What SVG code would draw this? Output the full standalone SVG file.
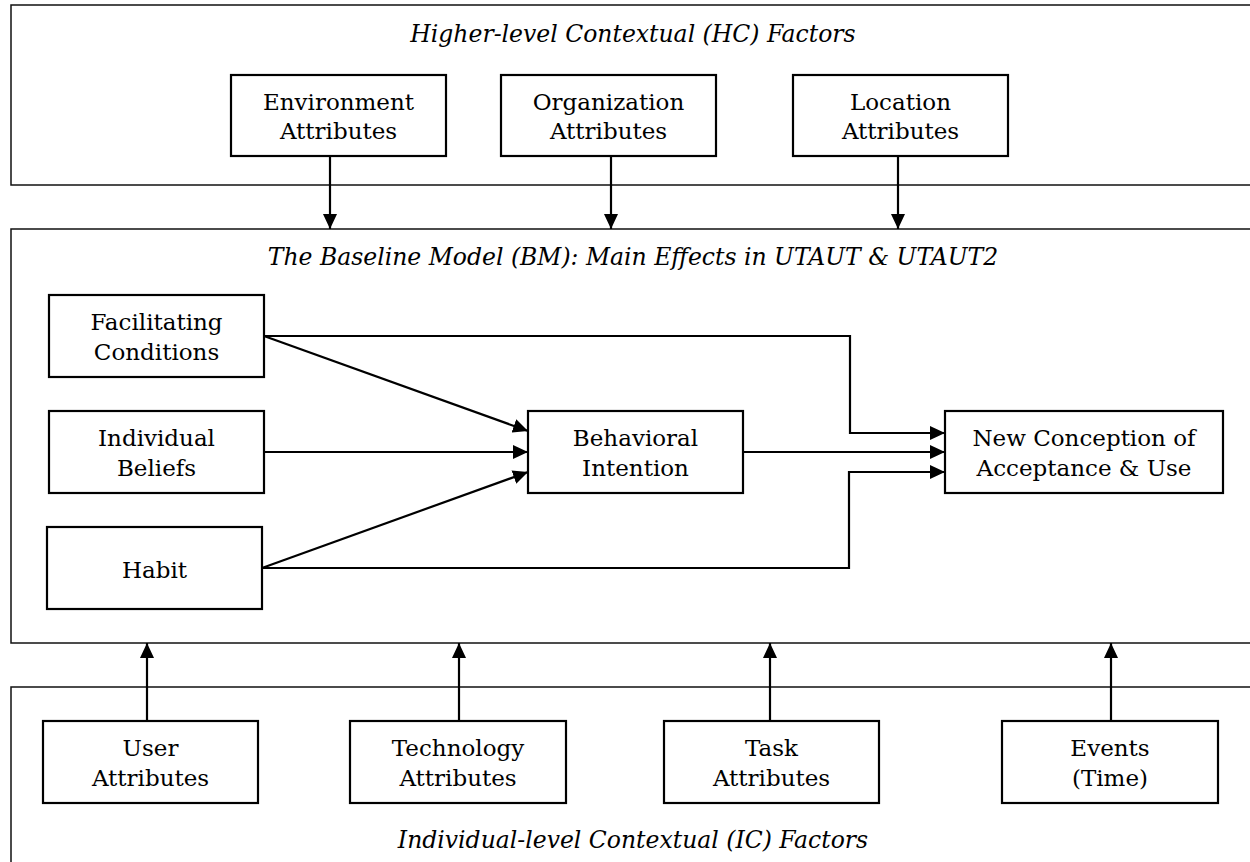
<svg xmlns="http://www.w3.org/2000/svg" width="1250" height="862" viewBox="0 0 1250 862">
<style>
.cont{fill:none;stroke:#111;stroke-width:1.5}
.node rect{fill:#fff;stroke:#000;stroke-width:2.2}
text{font-family:"DejaVu Serif","Liberation Serif",serif;font-size:23px;fill:#000;text-anchor:middle}
.title{font-style:italic;font-size:23.5px}
.conn{fill:none;stroke:#000;stroke-width:2.2}
</style>
<defs>
<marker id="ah" markerUnits="userSpaceOnUse" markerWidth="15" markerHeight="14" refX="15" refY="7" orient="auto">
<path d="M0,0 L15,7 L0,14 z" fill="#000"/>
</marker>
</defs>
<rect width="1250" height="862" fill="#fff"/>
<g id="hc-container">
<rect class="cont" x="11" y="5" width="1260" height="180"/>
<text class="title" x="633" y="42">Higher-level Contextual (HC) Factors</text>
</g>
<g id="bm-container">
<rect class="cont" x="11" y="229" width="1260" height="414"/>
<text class="title" x="633" y="265">The Baseline Model (BM): Main Effects in UTAUT &amp; UTAUT2</text>
</g>
<g id="ic-container">
<rect class="cont" x="11" y="687" width="1260" height="200"/>
<text class="title" x="633" y="848">Individual-level Contextual (IC) Factors</text>
</g>
<g id="environment" class="node"><rect x="231" y="75" width="215" height="81"/><text x="338.5" y="110">Environment</text><text x="338.5" y="139">Attributes</text></g>
<g id="organization" class="node"><rect x="501" y="75" width="215" height="81"/><text x="608.5" y="110">Organization</text><text x="608.5" y="139">Attributes</text></g>
<g id="location" class="node"><rect x="793" y="75" width="215" height="81"/><text x="900.5" y="110">Location</text><text x="900.5" y="139">Attributes</text></g>
<g id="facilitating" class="node"><rect x="49" y="295" width="215" height="82"/><text x="156.5" y="330">Facilitating</text><text x="156.5" y="360">Conditions</text></g>
<g id="beliefs" class="node"><rect x="49" y="411" width="215" height="82"/><text x="156.5" y="446">Individual</text><text x="156.5" y="476">Beliefs</text></g>
<g id="habit" class="node"><rect x="47" y="527" width="215" height="82"/><text x="154.5" y="578">Habit</text></g>
<g id="intention" class="node"><rect x="528" y="411" width="215" height="82"/><text x="635.5" y="446">Behavioral</text><text x="635.5" y="476">Intention</text></g>
<g id="acceptance" class="node"><rect x="945" y="411" width="278" height="82"/><text x="1084" y="446">New Conception of</text><text x="1084" y="476">Acceptance &amp; Use</text></g>
<g id="user" class="node"><rect x="43" y="721" width="215" height="82"/><text x="150.5" y="756">User</text><text x="150.5" y="786">Attributes</text></g>
<g id="technology" class="node"><rect x="350" y="721" width="216" height="82"/><text x="458" y="756">Technology</text><text x="458" y="786">Attributes</text></g>
<g id="task" class="node"><rect x="664" y="721" width="215" height="82"/><text x="771.5" y="756">Task</text><text x="771.5" y="786">Attributes</text></g>
<g id="events" class="node"><rect x="1002" y="721" width="216" height="82"/><text x="1110" y="756">Events</text><text x="1110" y="786">(Time)</text></g>
<g id="connectors">
<path class="conn" d="M330,156 L330,229" marker-end="url(#ah)"/>
<path class="conn" d="M611,156 L611,229" marker-end="url(#ah)"/>
<path class="conn" d="M898,156 L898,229" marker-end="url(#ah)"/>
<path class="conn" d="M264,336 L528,431" marker-end="url(#ah)"/>
<path class="conn" d="M264,452 L528,452" marker-end="url(#ah)"/>
<path class="conn" d="M262,568 L528,472" marker-end="url(#ah)"/>
<path class="conn" d="M264,336 L850,336 L850,433 L945,433" marker-end="url(#ah)"/>
<path class="conn" d="M743,452 L945,452" marker-end="url(#ah)"/>
<path class="conn" d="M262,568 L849,568 L849,472 L945,472" marker-end="url(#ah)"/>
<path class="conn" d="M147,721 L147,643" marker-end="url(#ah)"/>
<path class="conn" d="M459,721 L459,643" marker-end="url(#ah)"/>
<path class="conn" d="M770,721 L770,643" marker-end="url(#ah)"/>
<path class="conn" d="M1111,721 L1111,643" marker-end="url(#ah)"/>
</g>
</svg>
